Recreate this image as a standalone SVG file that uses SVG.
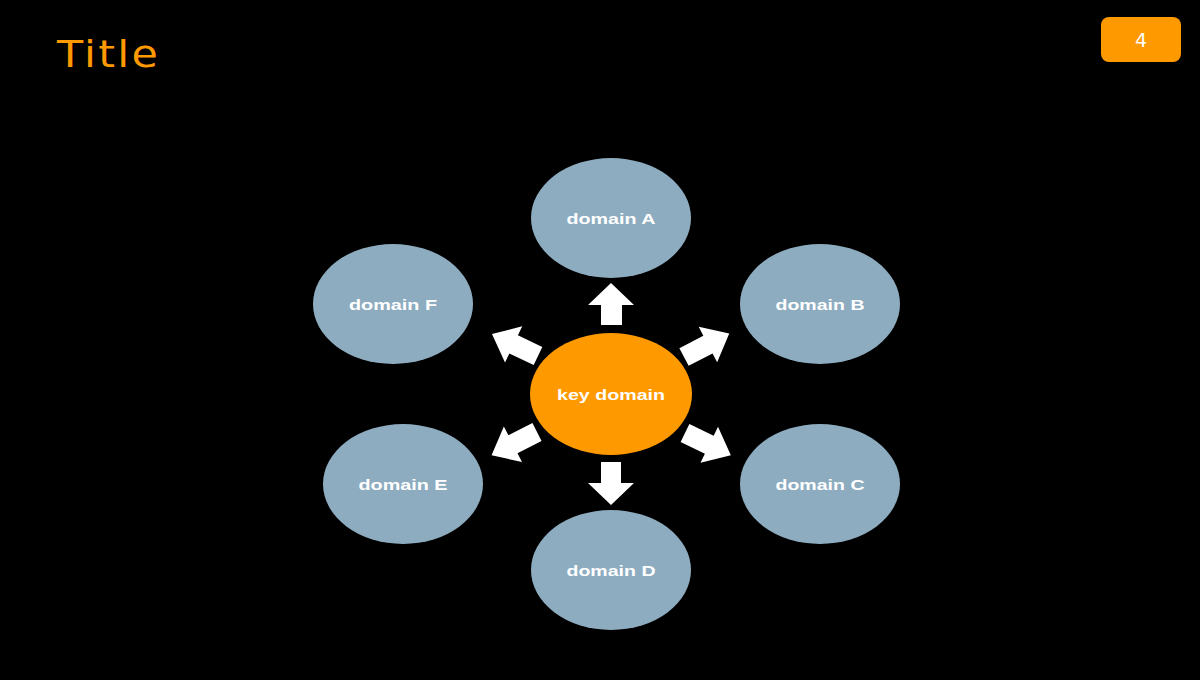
<svg xmlns="http://www.w3.org/2000/svg" width="1200" height="680" viewBox="0 0 1200 680">
<defs>
<style>
.dom{fill:#8DACC0}
.key{fill:#FF9900}
.lbl{font-family:"Liberation Sans",Arial,sans-serif;font-weight:bold;font-size:15px;fill:#FFFFFF;text-anchor:middle}
.arr{fill:#FFFFFF}
</style>
<polygon id="darr" points="0,-10 27,-10 27,-20 51,0 27,20 27,10 0,10"/>
</defs>
<rect x="0" y="0" width="1200" height="680" fill="#000000"/>
<text x="57" y="67" font-family="DejaVu Sans, sans-serif" font-size="38" letter-spacing="2" fill="#FF9900" textLength="103" lengthAdjust="spacingAndGlyphs">Title</text>
<g id="badge">
<rect x="1101" y="17" width="80" height="45" rx="8" fill="#FF9900"/>
<text x="1141" y="47" font-family="DejaVu Sans, sans-serif" font-size="19" fill="#FFFFFF" text-anchor="middle">4</text>
</g>
<g id="connectors" class="arr">
<polygon points="601,325 601,305 588,305 611,283 634,305 622,305 622,325"/>
<polygon points="601,462 601,483 588,483 611,505 634,483 621,483 621,462"/>
<use href="#darr" transform="translate(538,356) rotate(205.5)"/>
<use href="#darr" transform="translate(684,357) rotate(-27.5)"/>
<use href="#darr" transform="translate(537,432) rotate(153)"/>
<use href="#darr" transform="translate(685,433) rotate(26)"/>
</g>
<g id="key">
<ellipse class="key" cx="611" cy="394" rx="81" ry="61"/>
<text class="lbl" x="611" y="400" font-size="16" textLength="108" lengthAdjust="spacingAndGlyphs">key domain</text>
</g>
<g id="domainA">
<ellipse class="dom" cx="611" cy="218" rx="80" ry="60"/>
<text class="lbl" x="611" y="224" textLength="89" lengthAdjust="spacingAndGlyphs">domain A</text>
</g>
<g id="domainB">
<ellipse class="dom" cx="820" cy="304" rx="80" ry="60"/>
<text class="lbl" x="820" y="310" textLength="89" lengthAdjust="spacingAndGlyphs">domain B</text>
</g>
<g id="domainC">
<ellipse class="dom" cx="820" cy="484" rx="80" ry="60"/>
<text class="lbl" x="820" y="490" textLength="89" lengthAdjust="spacingAndGlyphs">domain C</text>
</g>
<g id="domainD">
<ellipse class="dom" cx="611" cy="570" rx="80" ry="60"/>
<text class="lbl" x="611" y="576" textLength="89" lengthAdjust="spacingAndGlyphs">domain D</text>
</g>
<g id="domainE">
<ellipse class="dom" cx="403" cy="484" rx="80" ry="60"/>
<text class="lbl" x="403" y="490" textLength="89" lengthAdjust="spacingAndGlyphs">domain E</text>
</g>
<g id="domainF">
<ellipse class="dom" cx="393" cy="304" rx="80" ry="60"/>
<text class="lbl" x="393" y="310" textLength="88" lengthAdjust="spacingAndGlyphs">domain F</text>
</g>
</svg>
